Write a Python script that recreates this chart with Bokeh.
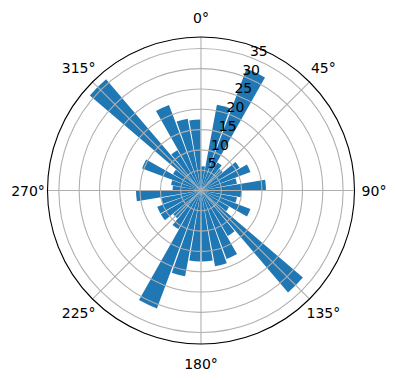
import numpy as np
from bokeh.plotting import figure
from bokeh.models import Range1d, ColumnDataSource
from bokeh.core.properties import value
from bokeh.embed import file_html
from bokeh.resources import INLINE

# compass direction of each bar centre (deg, clockwise from north)
directions = [5, 15, 25, 35, 45, 55, 65, 75, 85, 95, 105, 115,
              125, 135, 145, 155, 165, 175, 185, 195, 205, 215, 225, 235,
              245, 255, 265, 275, 285, 295, 305, 315, 325, 335, 345, 355]
values = [6, 21.5, 32, 8, 7, 11, 13, 9, 16, 10, 9, 13,
          8, 33, 13, 18, 19, 17.5, 17.5, 21.5, 31, 11, 9, 11.5,
          11.5, 10, 16, 7, 7.5, 15.5, 8, 36, 11.5, 22.5, 18, 17.5]
r_ticks = [5, 10, 15, 20, 25, 30, 35]
r_tick_labels = ["5", "10", "15", "20", "25", "30", "35"]
theta_ticks = [0, 45, 90, 135, 180, 225, 270, 315]
theta_labels = ["0°", "45°", "90°", "135°", "180°", "225°", "270°", "315°"]

W, H = 396, 380
cx, cy = 200.5, 190.0          # pixel centre of the polar axes
rmax = max(values) * 1.05
R_px = 153.5
s = R_px / rmax                 # pixels per data unit
bar_width = 9.0                 # degrees

p = figure(width=W, height=H, output_backend="svg", toolbar_location=None,
           x_range=Range1d(-cx / s, (W - cx) / s),
           y_range=Range1d(-(H - cy) / s, cy / s),
           x_axis_type=None, y_axis_type=None, min_border=0)
p.grid.visible = False
p.outline_line_color = None
p.background_fill_color = "white"

d = np.array(directions, dtype=float)
src = ColumnDataSource(dict(
    r=values,
    start=np.deg2rad(90 - (d + bar_width / 2)),
    end=np.deg2rad(90 - (d - bar_width / 2)),
))
p.wedge(x=0, y=0, radius="r", start_angle="start", end_angle="end",
        source=src, fill_color="#1f77b4", line_color=None)

# grid circles
p.circle(x=[0] * len(r_ticks), y=[0] * len(r_ticks), radius=r_ticks,
         fill_color=None, line_color="#b0b0b0", line_width=1.1)
# radial grid lines
t = np.deg2rad(90 - np.array(theta_ticks, dtype=float))
p.segment(x0=[0] * len(t), y0=[0] * len(t), x1=list(rmax * np.cos(t)),
          y1=list(rmax * np.sin(t)), line_color="#b0b0b0", line_width=1.1)
# outer spine
p.circle(x=[0], y=[0], radius=[rmax], fill_color=None, line_color="black",
         line_width=1.1)

# theta labels
lr = 173 / s
p.text(x=list(lr * np.cos(t)), y=list(lr * np.sin(t)), text=theta_labels,
       text_font=value("DejaVu Sans"), text_font_size="14px",
       text_align="center", text_baseline="middle", text_color="black")

# radial tick labels along 22.5 deg
a = np.deg2rad(90 - 22.5)
rr = np.array(r_ticks, dtype=float) + 9 / s
p.text(x=list(rr * np.cos(a)), y=list(rr * np.sin(a)), text=r_tick_labels,
       text_font=value("DejaVu Sans"), text_font_size="14px",
       text_align="center", text_baseline="middle", text_color="black")

open("out.html", "w").write(file_html(p, INLINE))
